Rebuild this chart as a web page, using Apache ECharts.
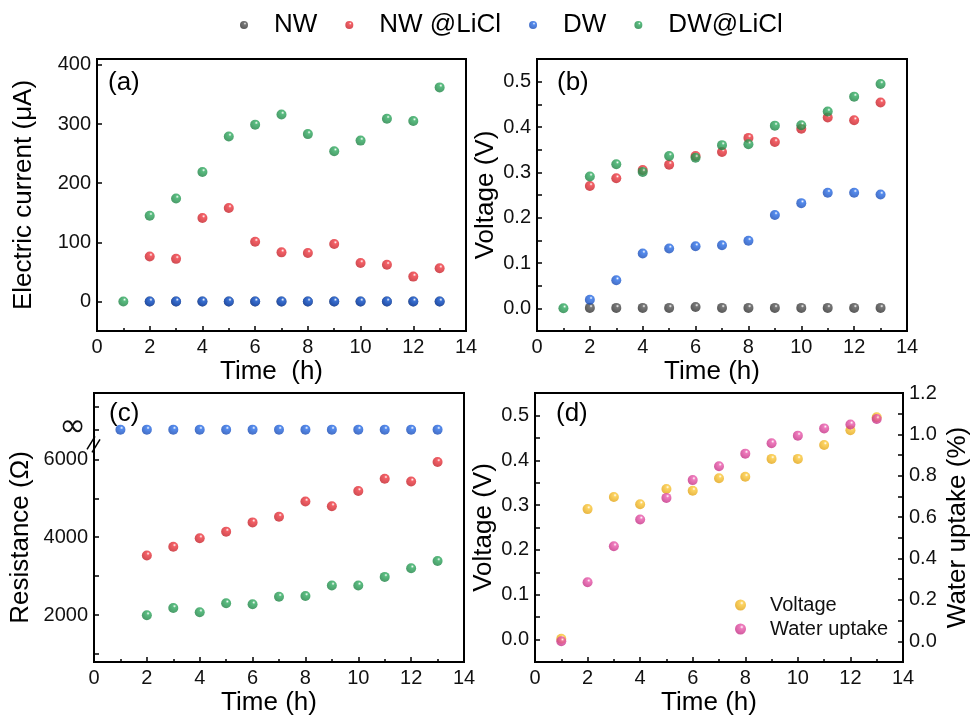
<!DOCTYPE html>
<html>
<head>
<meta charset="utf-8">
<script src="https://cdn.jsdelivr.net/npm/echarts@6/dist/echarts.min.js"></script>
<style>
  html, body { margin: 0; padding: 0; background: #fff; }
  #chart { width: 972px; height: 717px; }
</style>
</head>
<body>
<div id="chart"></div>
<script>
// time axis (h)
const hours = [1, 2, 3, 4, 5, 6, 7, 8, 9, 10, 11, 12, 13];

// (a) electric current (uA)
const currentNW = ['-', 0, 0, 0, 0, 0, 0, 0, 0, 0, 0, 0, 0];
const currentNWLiCl = ['-', 76, 72, 141, 158, 101, 83, 82, 97, 65, 62, 42, 56];
const currentDW = ['-', 0, 0, 0, 0, 0, 0, 0, 0, 0, 0, 0, 0];
const currentDWLiCl = [0, 145, 174, 219, 279, 299, 316, 283, 254, 272, 309, 305, 362];

// (b) voltage (V)
const voltageNW = ['-', 0.001, 0.001, 0.001, 0.001, 0.003, 0.001, 0.001, 0.001, 0.001, 0.001, 0.001, 0.001];
const voltageNWLiCl = ['-', 0.270, 0.287, 0.305, 0.317, 0.336, 0.345, 0.376, 0.367, 0.396, 0.421, 0.415, 0.454];
const voltageDW = ['-', 0.019, 0.062, 0.121, 0.132, 0.137, 0.139, 0.149, 0.206, 0.232, 0.255, 0.255, 0.251];
const voltageDWLiCl = [0, 0.291, 0.318, 0.301, 0.336, 0.332, 0.360, 0.362, 0.403, 0.404, 0.434, 0.467, 0.495];

// (c) resistance (ohm), DW sits on the "infinity" level of the broken axis
const resistDW = [6760, 6760, 6760, 6760, 6760, 6760, 6760, 6760, 6760, 6760, 6760, 6760, 6760];
const resistNWLiCl = ['-', 3534, 3754, 3975, 4144, 4381, 4525, 4915, 4797, 5186, 5500, 5432, 5932];
const resistDWLiCl = ['-', 2000, 2186, 2076, 2305, 2280, 2475, 2492, 2763, 2763, 2983, 3203, 3390];

// (d) voltage vs water uptake
const voltageD = [0.002, 0.291, 0.318, 0.302, 0.336, 0.332, 0.360, 0.363, 0.403, 0.403, 0.434, 0.467, 0.496];
const waterUptake = [0, 0.285, 0.459, 0.589, 0.693, 0.779, 0.846, 0.907, 0.957, 0.994, 1.029, 1.048, 1.074];

// tick labels
const currentTicks = [0, 100, 200, 300, 400];
const voltTicks = [0, 0.1, 0.2, 0.3, 0.4, 0.5];
const voltMinor = [0.05, 0.15, 0.25, 0.35, 0.45];
const resistTicks = [2000, 4000, 6000, 6760];
const uptakeTicks = [0, 0.2, 0.4, 0.6, 0.8, 1.0, 1.2];
const uptakeMinor = [0.1, 0.3, 0.5, 0.7, 0.9, 1.1];

const FONT = 'Liberation Sans, Arial, sans-serif';

const ball = (base, dark) => ({
  type: 'radial', x: 0.62, y: 0.32, r: 0.75,
  colorStops: [
    { offset: 0, color: '#ffffff' },
    { offset: 0.22, color: base },
    { offset: 1, color: dark }
  ]
});
const colors = {
  NW: ball('#555555', '#2a2a2a'),
  NWLiCl: ball('#f03840', '#bf1c24'),
  DW: ball('#2a6ee8', '#1446b0'),
  DWLiCl: ball('#30ab60', '#1a7d40'),
  volt: ball('#fbc83a', '#e0a010'),
  water: ball('#ea5aac', '#c02a80')
};

const pairs = (arr) => hours.map((h, i) => [h, arr[i]]);

const grids = [
  { left: 97, top: 59, width: 369, height: 272 },
  { left: 537, top: 59, width: 370, height: 272 },
  { left: 94, top: 393, width: 370, height: 271 },
  { left: 535, top: 393, width: 369, height: 270 }
].map(g => Object.assign(g, { show: true, borderColor: '#000', borderWidth: 2, backgroundColor: 'transparent' }));

const axisLine = { show: true, onZero: false, lineStyle: { color: '#000', width: 2 } };
const labelStyle = { color: '#111', fontSize: 20, fontFamily: FONT };
const nameStyle = { color: '#000', fontSize: 26, fontFamily: FONT };

const xAxis = (gridIndex, name) => ({
  type: 'value', gridIndex, min: 0, max: 14, interval: 2,
  name, nameLocation: 'middle', nameGap: 28,
  nameTextStyle: Object.assign({ padding: [0, 20, 0, 0] }, nameStyle),
  axisLine, splitLine: { show: false },
  axisTick: { inside: true, length: 5, lineStyle: { color: '#000', width: 1.5 } },
  minorTick: { show: true, splitNumber: 2, length: 3, lineStyle: { color: '#000', width: 1.5 } },
  axisLabel: Object.assign({ margin: 6 }, labelStyle)
});

const yAxis = (gridIndex, o) => ({
  type: 'value', gridIndex, min: o.min, max: o.max,
  position: o.position || 'left',
  name: o.name, nameLocation: 'middle', nameGap: o.nameGap,
  nameTextStyle: Object.assign({ padding: o.namePadding || 0 }, nameStyle),
  axisLine, splitLine: { show: false },
  axisTick: { inside: true, length: 5, customValues: o.ticks, lineStyle: { color: '#000', width: 1.5 } },
  axisLabel: Object.assign({ margin: 6, customValues: o.labels, formatter: o.formatter }, labelStyle)
});

const scatter = (name, xi, yi, arr, color, z) => ({
  name, type: 'scatter', xAxisIndex: xi, yAxisIndex: yi,
  data: pairs(arr), symbolSize: 10, z: z || 2,
  itemStyle: { color }
});

const chart = echarts.init(document.getElementById('chart'), null, { renderer: 'canvas' });

const panelLabel = (text, left, top) => ({
  type: 'text', left, top,
  style: { text, fontSize: 26, fontFamily: FONT, fill: '#000' }
});

const option = {
  backgroundColor: '#fff',
  animation: false,
  textStyle: { fontFamily: FONT },
  grid: grids,
  legend: [
    {
      data: ['NW', 'NW @LiCl', 'DW', 'DW@LiCl'],
      left: 235, top: 7, icon: 'circle', itemWidth: 8, itemHeight: 8, itemGap: 28,
      textStyle: { fontSize: 26, color: '#000', fontFamily: FONT, padding: [0, 0, 0, 21] }
    },
    {
      data: ['Voltage', 'Water uptake'],
      orient: 'vertical', left: 730, top: 590, icon: 'circle',
      itemWidth: 11, itemHeight: 11, itemGap: 4,
      textStyle: { fontSize: 20, color: '#111', fontFamily: FONT, padding: [0, 0, 0, 19] }
    }
  ],
  xAxis: [
    xAxis(0, 'Time  (h)'),
    xAxis(1, 'Time (h)'),
    xAxis(2, 'Time (h)'),
    xAxis(3, 'Time (h)')
  ],
  yAxis: [
    yAxis(0, { min: -50, max: 410, labels: currentTicks, ticks: currentTicks, name: 'Electric current (\u03bcA)', nameGap: 60 }),
    yAxis(1, { min: -0.05, max: 0.55, labels: voltTicks, ticks: voltTicks.concat(voltMinor), name: 'Voltage (V)', nameGap: 36,
      formatter: v => v.toFixed(1) }),
    yAxis(2, { min: 800, max: 7700, labels: resistTicks, ticks: [1000, 3000, 5000].concat(resistTicks, [7350]),
      name: 'Resistance (\u03a9)', nameGap: 60, namePadding: [0, 20, 0, 0],
      formatter: v => v > 6500 ? '{inf|\u221e}' : String(v) }),
    yAxis(3, { min: -0.05, max: 0.55, labels: voltTicks, ticks: voltTicks.concat(voltMinor), name: 'Voltage (V)', nameGap: 35,
      formatter: v => v.toFixed(1) }),
    yAxis(3, { min: -0.1, max: 1.2, position: 'right', labels: uptakeTicks, ticks: uptakeTicks.concat(uptakeMinor),
      name: 'Water uptake (%)', nameGap: 42, formatter: v => v.toFixed(1) })
  ],
  series: [
    scatter('NW', 0, 0, currentNW, colors.NW, 2),
    scatter('DW', 0, 0, currentDW, colors.DW, 3),
    scatter('NW @LiCl', 0, 0, currentNWLiCl, colors.NWLiCl, 4),
    scatter('DW@LiCl', 0, 0, currentDWLiCl, colors.DWLiCl, 5),

    scatter('NW', 1, 1, voltageNW, colors.NW, 2),
    scatter('DW', 1, 1, voltageDW, colors.DW, 3),
    scatter('NW @LiCl', 1, 1, voltageNWLiCl, colors.NWLiCl, 4),
    scatter('DW@LiCl', 1, 1, voltageDWLiCl, colors.DWLiCl, 5),

    scatter('DW', 2, 2, resistDW, colors.DW, 3),
    scatter('NW @LiCl', 2, 2, resistNWLiCl, colors.NWLiCl, 4),
    scatter('DW@LiCl', 2, 2, resistDWLiCl, colors.DWLiCl, 5),

    scatter('Voltage', 3, 3, voltageD, colors.volt, 4),
    scatter('Water uptake', 3, 4, waterUptake, colors.water, 5)
  ],
  graphic: [
    panelLabel('(a)', 108, 70),
    panelLabel('(b)', 557, 70),
    panelLabel('(c)', 109, 401),
    panelLabel('(d)', 556, 401)
  ]
};
// bigger glyph for the infinity label
option.yAxis[2].axisLabel.rich = { inf: { fontSize: 32, fontFamily: 'DejaVu Sans', color: '#111', padding: [0, 2, 4, 0] } };

chart.setOption(option);

// axis break marks "//" on the resistance axis
const brk = chart.convertToPixel({ xAxisIndex: 2, yAxisIndex: 2 }, [0, 6380]);
chart.setOption({
  graphic: option.graphic.concat([
    {
      type: 'group', x: brk[0], y: brk[1], z: 100,
      children: [
        { type: 'polygon', shape: { points: [[-6, 6], [-2, 7], [6, -6], [2, -7]] }, style: { fill: '#fff' } },
        { type: 'line', shape: { x1: -7, y1: 5, x2: 1, y2: -8 }, style: { stroke: '#000', lineWidth: 1.5 } },
        { type: 'line', shape: { x1: -2, y1: 8, x2: 6, y2: -5 }, style: { stroke: '#000', lineWidth: 1.5 } }
      ]
    }
  ])
});
</script>
</body>
</html>
